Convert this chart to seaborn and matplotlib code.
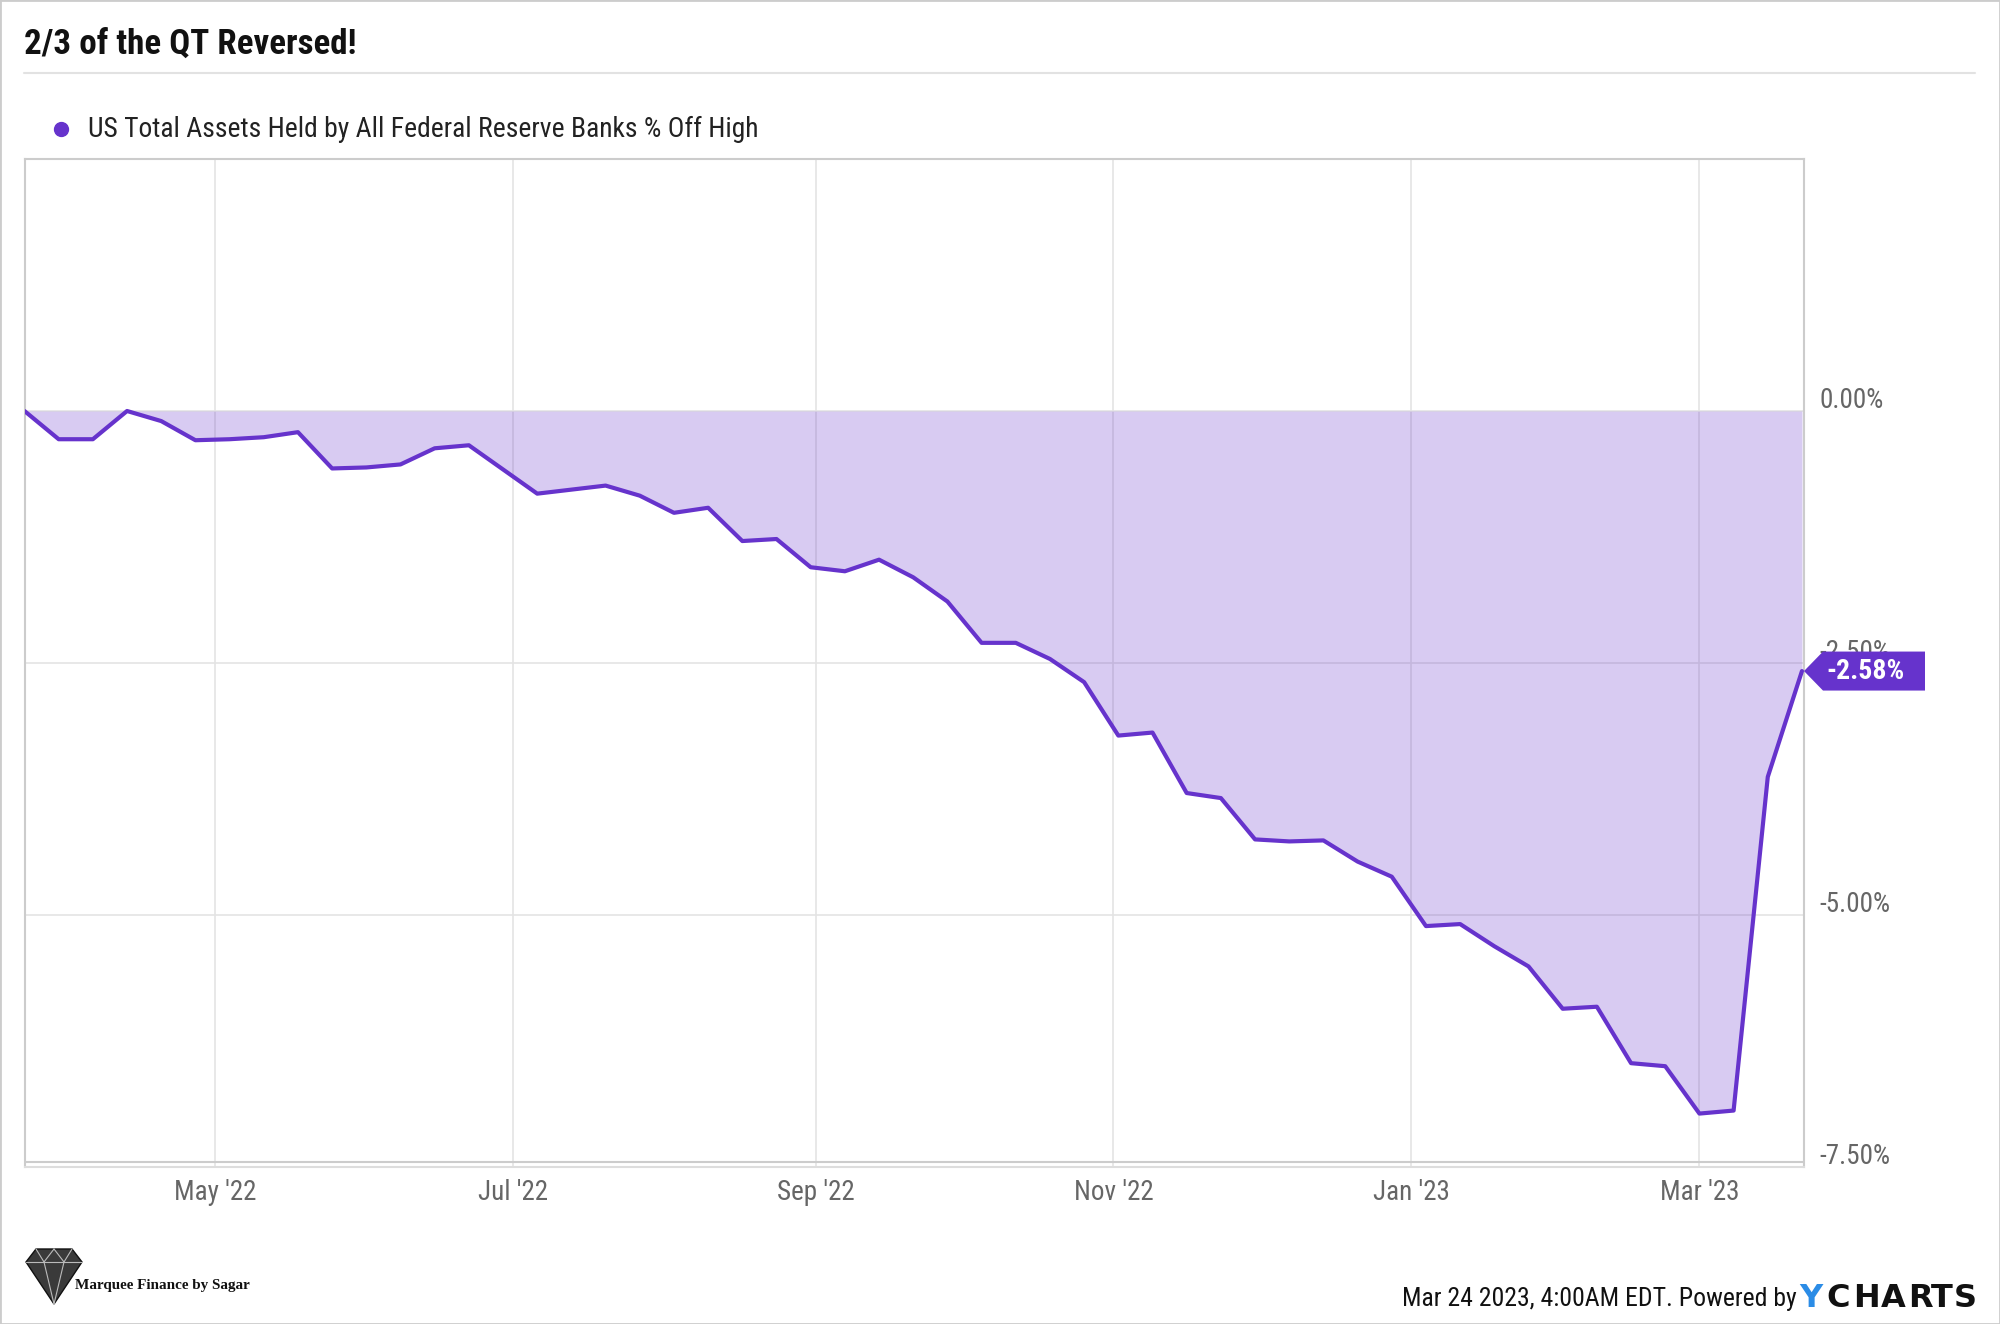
import numpy as np
import pandas as pd
import matplotlib
matplotlib.use("Agg")
import matplotlib.pyplot as plt
import matplotlib.dates as mdates
from matplotlib.lines import Line2D
from matplotlib.patches import Polygon, Rectangle
from matplotlib.transforms import IdentityTransform, ScaledTranslation
import seaborn as sns

# ---------------- data ----------------
title = "2/3 of the QT Reversed!"
series_name = "US Total Assets Held by All Federal Reserve Banks % Off High"
start_date = "2022-03-23"
n_weeks = 53
pct_off_high = [0.00, -0.28, -0.28, 0.00, -0.10, -0.29, -0.28, -0.26, -0.21, -0.57,
                -0.56, -0.53, -0.37, -0.34, -0.58, -0.82, -0.78, -0.74, -0.84, -1.01,
                -0.96, -1.29, -1.27, -1.55, -1.59, -1.475, -1.65, -1.89, -2.30, -2.30,
                -2.46, -2.69, -3.22, -3.19, -3.79, -3.84, -4.25, -4.27, -4.26, -4.47,
                -4.62, -5.11, -5.09, -5.31, -5.51, -5.93, -5.91, -6.47, -6.50, -6.97,
                -6.94, -3.63, -2.58]
y_ticks = [0.0, -2.5, -5.0, -7.5]
y_tick_labels = ["0.00%", "-2.50%", "-5.00%", "-7.50%"]
last_label = "-2.58%"
footer_text = "Mar 24 2023, 4:00AM EDT. Powered by"
logo_letters = ["C", "H", "A", "R", "T", "S"]
brand_text = "Marquee Finance by Sagar"

dates = pd.date_range(start_date, periods=n_weeks, freq="7D")
df = pd.DataFrame({"date": dates, "pct": pct_off_high})

# ---------------- style ----------------
PURPLE = "#6633CC"
sns.set_theme(style="white")
COND = ["Roboto Condensed", "Roboto", "DejaVu Sans"]
plt.rcParams["font.family"] = COND

W, H = 2000, 1324
fig = plt.figure(figsize=(W / 100, H / 100), dpi=100)
fig.patch.set_facecolor("white")

def fx(px):
    return px / W

def fy(py):
    return 1 - py / H

ax_left, ax_right, ax_top, ax_bot = 24.5, 1804, 159, 1167
ax = fig.add_axes([fx(ax_left), fy(ax_bot), (ax_right - ax_left) / W, (ax_bot - ax_top) / H])
ax.set_facecolor("white")

sns.lineplot(data=df, x="date", y="pct", ax=ax, color=PURPLE, lw=3, zorder=4)
ax.fill_between(df["date"], df["pct"], 0, color=PURPLE, alpha=0.25, lw=0, zorder=3)

ax.set_xlim(dates[0], dates[-1] + pd.Timedelta(hours=10))
ax.set_ylim(-7.5, 2.5)
ax.set_xlabel("")
ax.set_ylabel("")

ax.xaxis.set_major_locator(mdates.MonthLocator(bymonth=[1, 3, 5, 7, 9, 11]))
ax.xaxis.set_major_formatter(mdates.DateFormatter("%b '%y"))
ax.yaxis.tick_right()
ax.set_yticks(y_ticks, y_tick_labels)
ax.set_axisbelow(True)
ax.grid(True, color="#e4e4e4", lw=1.2, zorder=0)
ax.tick_params(axis="x", length=0, pad=9, labelsize=19.5, labelcolor="#666666")
ax.tick_params(axis="y", length=0, pad=11, labelsize=19.5, labelcolor="#666666")
lift = ScaledTranslation(0, 2.5 / 100, fig.dpi_scale_trans)
for t in ax.get_yticklabels():
    t.set_va("baseline")
    t.set_transform(t.get_transform() + lift)

for side in ["left", "top", "right"]:
    ax.spines[side].set_color("#cccccc")
    ax.spines[side].set_linewidth(1.5)
ax.spines["bottom"].set_color("#dddddd")
ax.spines["bottom"].set_linewidth(1.5)
ax.axhline(-7.45, color="#cccccc", lw=1.5, zorder=2)

# ---------------- last-value flag ----------------
last_x = mdates.date2num(dates[-1])
_, ay = ax.transData.transform((last_x, pct_off_high[-1]))
tip_x = ax.transAxes.transform((1, 0))[0]
hh = 19.5
verts = [(tip_x, ay), (tip_x + 19, ay + hh), (tip_x + 121, ay + hh),
         (tip_x + 121, ay - hh), (tip_x + 19, ay - hh)]
flag = Polygon(verts, closed=True, facecolor=PURPLE, edgecolor="none",
               transform=IdentityTransform(), zorder=10)
fig.add_artist(flag)
fig.text(tip_x + 62, ay, last_label, transform=IdentityTransform(), color="white",
         fontsize=20, fontweight="bold", ha="center", va="center", zorder=11)

# ---------------- title / legend ----------------
fig.text(fx(24), fy(44.5), title, fontsize=25.2, fontweight="bold", color="#111111",
         ha="left", va="center")
fig.add_artist(Line2D([fx(24), fx(1975)], [fy(72.7), fy(72.7)], color="#e2e2e2", lw=1.5))
fig.add_artist(Line2D([fx(61)], [fy(129)], marker="o", ms=10, color=PURPLE, ls=""))
fig.text(fx(88), fy(129.5), series_name, fontsize=19.9, color="#222222", ha="left", va="center")

# ---------------- footer ----------------
fig.text(fx(1797), fy(1306), footer_text, fontsize=18.5, color="#111111",
         ha="right", va="baseline")
fig.text(fx(1811), fy(1307), "Y", fontsize=23, fontweight="bold", color="#2b8ce6",
         ha="center", va="baseline", family=["DejaVu Sans"])
logo_x = [1838, 1867, 1893, 1920, 1942, 1965]
for letter, lx in zip(logo_letters, logo_x):
    fig.text(fx(lx), fy(1307), letter, fontsize=23, fontweight="bold", color="#111111",
             ha="center", va="baseline", family=["DejaVu Sans"])

# brand logo (diamond) + text
diamond = Polygon([(fx(26), fy(1262)), (fx(36), fy(1249)), (fx(72), fy(1249)),
                   (fx(82), fy(1262)), (fx(54), fy(1304))], closed=True,
                  facecolor="#3a3a3a", edgecolor="#111111", lw=1, transform=fig.transFigure)
fig.add_artist(diamond)
for (x0, y0, x1, y1) in [(26, 1262, 82, 1262), (36, 1249, 44, 1262), (72, 1249, 64, 1262),
                         (54, 1249, 44, 1262), (54, 1249, 64, 1262), (44, 1262, 54, 1304),
                         (64, 1262, 54, 1304)]:
    fig.add_artist(Line2D([fx(x0), fx(x1)], [fy(y0), fy(y1)], color="#bbbbbb", lw=0.8))
fig.text(fx(75), fy(1285), brand_text, fontsize=10.9, fontweight="bold", color="#111111",
         ha="left", va="center", family=["Liberation Serif", "DejaVu Serif"])

# outer border
fig.add_artist(Rectangle((0, 0), 1, 1, transform=fig.transFigure, fill=False,
                         edgecolor="#cccccc", lw=2))

fig.savefig("out.png", dpi=100, facecolor="white")
